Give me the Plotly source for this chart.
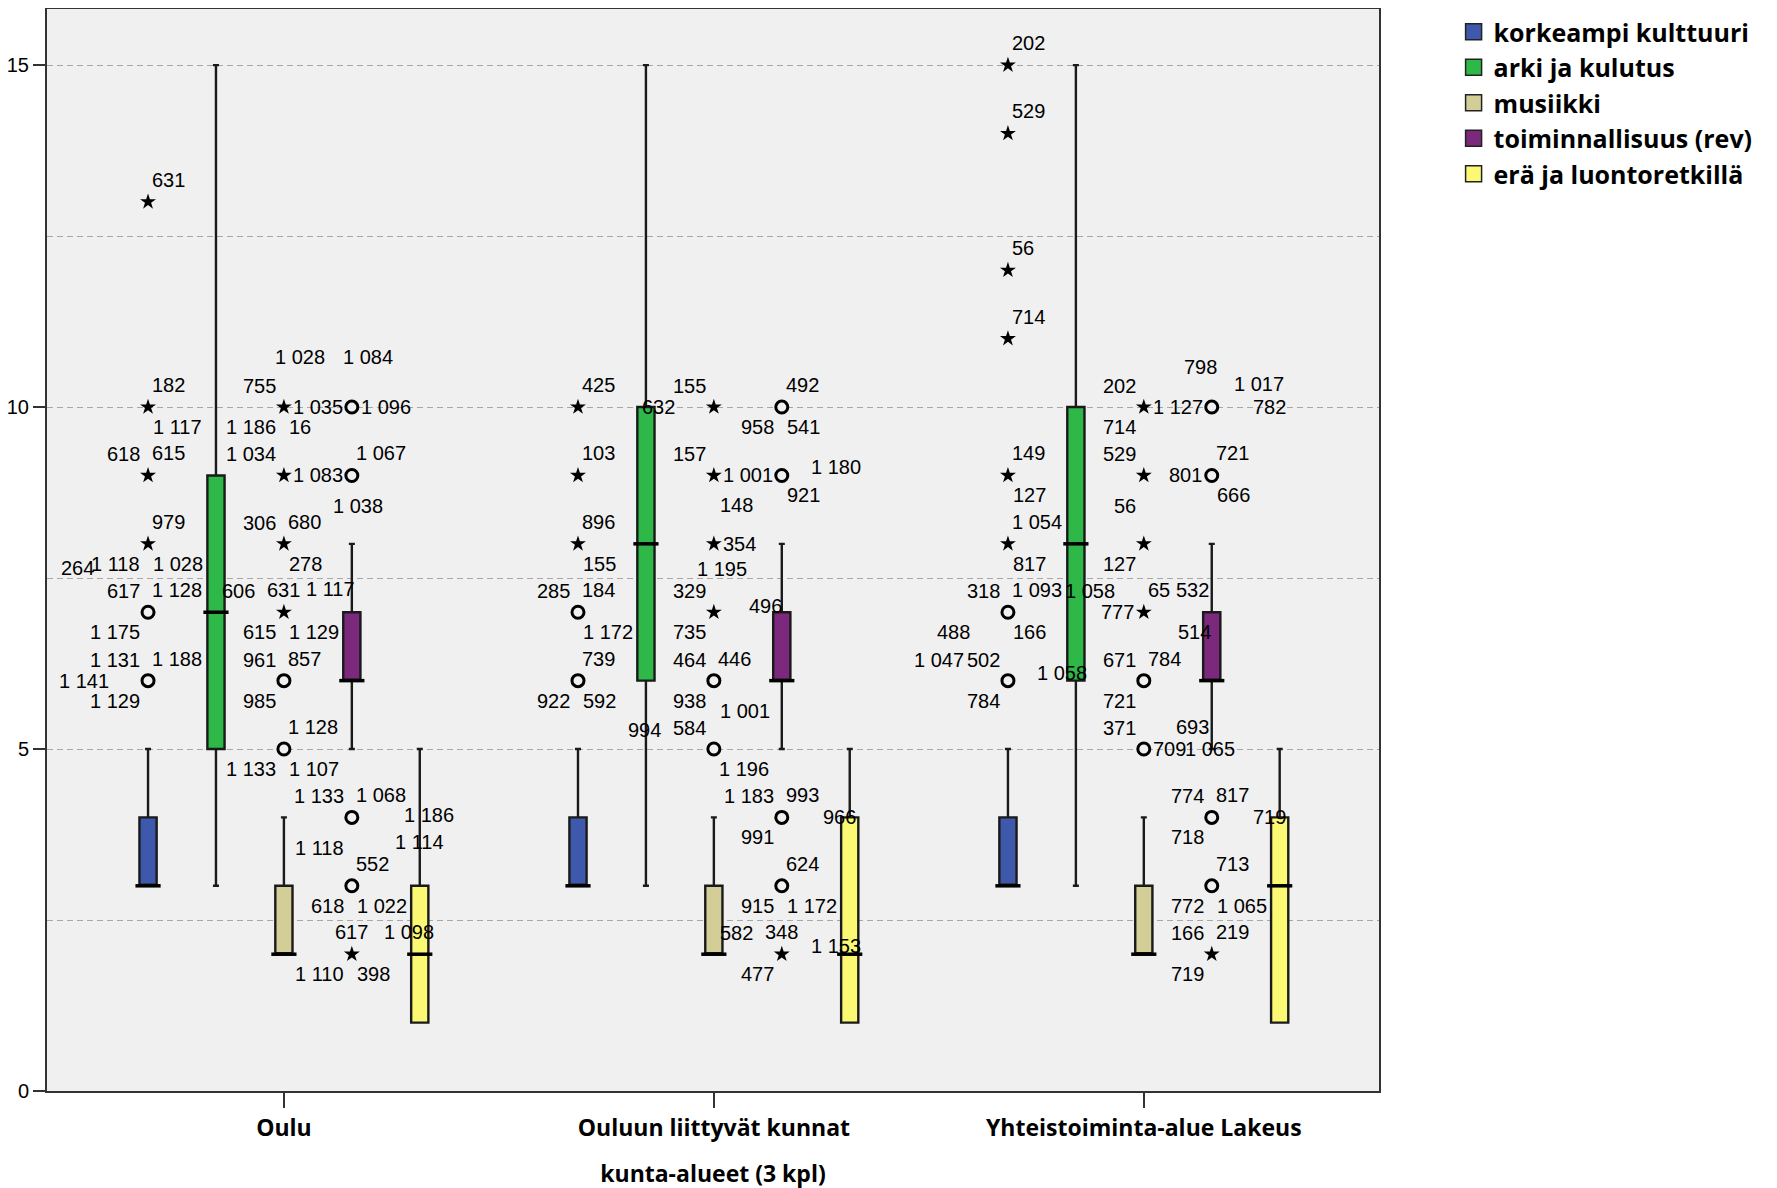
import plotly.graph_objects as go

# ---------------- data ----------------
GROUPS = ["Oulu", "Ouluun liittyvät kunnat", "Yhteistoiminta-alue Lakeus"]
SERIES = ["korkeampi kulttuuri", "arki ja kulutus", "musiikki",
          "toiminnallisuus (rev)", "erä ja luontoretkillä"]

# box statistics per series, one value per group
KK_STATS = dict(q1=[3, 3, 3], median=[3, 3, 3], q3=[4, 4, 4], lo=[3, 3, 3], hi=[5, 5, 5])
AK_STATS = dict(q1=[5, 6, 6], median=[7, 8, 8], q3=[9, 10, 10], lo=[3, 3, 3], hi=[15, 15, 15])
MU_STATS = dict(q1=[2, 2, 2], median=[2, 2, 2], q3=[3, 3, 3], lo=[2, 2, 2], hi=[4, 4, 4])
TO_STATS = dict(q1=[6, 6, 6], median=[6, 6, 6], q3=[7, 7, 7], lo=[5, 5, 5], hi=[8, 8, 8])
ER_STATS = dict(q1=[1, 1, 1], median=[2, 2, 3], q3=[3, 4, 4], lo=[1, 1, 1], hi=[5, 5, 5])

# outliers: (group index, value, kind 'o' = outlier / '*' = extreme, case labels with placement code)
KK_OUT = [
    (0, 13, "*", [("631", "ne")]),
    (0, 10, "*", [("182", "ne"), ("1 117", "se")]),
    (0, 9, "*", [("618", "nw"), ("615", "ne")]),
    (0, 8, "*", [("979", "ne"), ("1 028", "se"), ("1 118", "sw"), ("264", "sww")]),
    (0, 7, "o", [("617", "nw"), ("1 128", "ne"), ("1 175", "sw")]),
    (0, 6, "o", [("1 131", "nw"), ("1 188", "ne"), ("1 141", "ww"), ("1 129", "sw")]),
    (1, 10, "*", [("425", "ne")]),
    (1, 9, "*", [("103", "ne")]),
    (1, 8, "*", [("896", "ne"), ("155", "se")]),
    (1, 7, "o", [("285", "nw"), ("184", "ne"), ("1 172", "se")]),
    (1, 6, "o", [("739", "ne"), ("922", "sw"), ("592", "se")]),
    (2, 15, "*", [("202", "ne")]),
    (2, 14, "*", [("529", "ne")]),
    (2, 12, "*", [("56", "ne")]),
    (2, 11, "*", [("714", "ne")]),
    (2, 9, "*", [("149", "ne"), ("127", "se")]),
    (2, 8, "*", [("1 054", "ne"), ("817", "se")]),
    (2, 7, "o", [("318", "nw"), ("1 093", "ne"), ("166", "se"), ("488", "swF")]),
    (2, 6, "o", [("502", "nw"), ("1 047", "nwFF"), ("784", "sw"), ("1 058", "e3")]),
]
AK_OUT = []
MU_OUT = [
    (0, 10, "*", [("755", "nw"), ("1 028", "nne"), ("1 035", "e"), ("1 186", "sw"), ("16", "se")]),
    (0, 9, "*", [("1 034", "nw"), ("1 083", "e")]),
    (0, 8, "*", [("306", "nw"), ("680", "ne"), ("278", "se")]),
    (0, 7, "*", [("631", "n"), ("606", "nwF"), ("1 117", "neF"), ("615", "sw"), ("1 129", "se")]),
    (0, 6, "o", [("961", "nw"), ("857", "ne"), ("985", "sw")]),
    (0, 5, "o", [("1 128", "ne"), ("1 133", "sw"), ("1 107", "se")]),
    (1, 10, "*", [("155", "nw"), ("632", "ww")]),
    (1, 9, "*", [("157", "nw"), ("1 001", "e"), ("148", "se2")]),
    (1, 8, "*", [("354", "e"), ("1 195", "s")]),
    (1, 7, "*", [("329", "nw"), ("735", "sw"), ("496", "e2")]),
    (1, 6, "o", [("464", "nw"), ("446", "ne"), ("938", "sw"), ("1 001", "se2")]),
    (1, 5, "o", [("584", "nw"), ("994", "nww"), ("1 196", "se")]),
    (2, 10, "*", [("202", "nw"), ("1 127", "e"), ("714", "sw")]),
    (2, 9, "*", [("529", "nw"), ("56", "sw2")]),
    (2, 8, "*", [("127", "sw")]),
    (2, 7, "*", [("65", "ne"), ("532", "neF2"), ("777", "w"), ("1 058", "nwF"), ("514", "seF2")]),
    (2, 6, "o", [("671", "nw"), ("784", "ne"), ("721", "sw")]),
    (2, 5, "o", [("371", "nw"), ("693", "neF2"), ("709", "e"), ("1 065", "e4")]),
]
TO_OUT = [
    (0, 10, "o", [("1 084", "nne"), ("1 096", "e")]),
    (0, 9, "o", [("1 067", "ne"), ("1 038", "s2")]),
    (0, 4, "o", [("1 133", "nw"), ("1 068", "ne"), ("1 118", "sw2"), ("1 186", "eF"), ("1 114", "seF")]),
    (0, 3, "o", [("552", "ne"), ("618", "sw"), ("1 022", "se")]),
    (0, 2, "*", [("617", "n"), ("1 110", "sw"), ("398", "se"), ("1 098", "neF2")]),
    (1, 10, "o", [("492", "ne"), ("958", "sw"), ("541", "se")]),
    (1, 9, "o", [("1 180", "e3"), ("921", "se")]),
    (1, 4, "o", [("1 183", "nw"), ("993", "ne"), ("991", "sw"), ("966", "e4")]),
    (1, 3, "o", [("624", "ne"), ("915", "sw"), ("1 172", "se")]),
    (1, 2, "*", [("348", "n"), ("477", "sw"), ("582", "nwF"), ("1 153", "e3")]),
    (2, 10, "o", [("798", "nnw"), ("1 017", "neF"), ("782", "e4")]),
    (2, 9, "o", [("721", "ne"), ("801", "w"), ("666", "se")]),
    (2, 4, "o", [("774", "nw"), ("817", "ne"), ("718", "sw"), ("719", "e4")]),
    (2, 3, "o", [("713", "ne"), ("772", "sw"), ("1 065", "se")]),
    (2, 2, "*", [("219", "ne"), ("166", "nw"), ("719", "sw")]),
]
ER_OUT = []

Y_TICKS = [0, 5, 10, 15]

STATS = [KK_STATS, AK_STATS, MU_STATS, TO_STATS, ER_STATS]
OUTLIERS = [KK_OUT, AK_OUT, MU_OUT, TO_OUT, ER_OUT]

# ---------------- style ----------------
COLORS = ["#3E58AC", "#2EB848", "#D3CE97", "#7C287D", "#FBF873"]
PLOT_BG = "#F0F0F0"
SLOT = 0.158          # distance between boxes inside a group (x units)
BOX_W = 0.04          # box width (x units)
OFFSETS = [(j - (len(SERIES) - 1) / 2) * SLOT for j in range(len(SERIES))]

# label placement codes: (xanchor, xshift px, screen dy px)
PLACE = {
    "n": ("center", 0, -22), "ne": ("left", 3, -22), "nw": ("right", -7, -21),
    "se": ("left", 4, 20), "sw": ("right", -7, 20), "e": ("left", 8, 0),
    "w": ("right", -9, 0), "ww": ("right", -38, 0), "sww": ("right", -53, 24),
    "nwF": ("right", -28, -21), "nwFF": ("right", -43, -21), "neF": ("left", 21, -23),
    "neF2": ("left", 31, -22), "nne": ("left", -10, -50), "nnw": ("center", -11, -40),
    "eF": ("left", 51, -2), "e2": ("left", 34, -6), "e3": ("left", 28, -8),
    "e4": ("left", 40, 0), "seF": ("left", 42, 25), "seF2": ("left", 33, 20),
    "se2": ("left", 5, 30), "sw2": ("right", -7, 31), "swF": ("right", -37, 20),
    "s2": ("center", 6, 31), "nww": ("right", -52, -19), "s": ("center", 8, 25),
}

LABEL_FONT = dict(family="Liberation Sans, Arial, sans-serif", size=20, color="black")
BOLD_FONT = dict(family="Open Sans, sans-serif", size=23, color="black", weight="bold")
LEGEND_FONT = dict(family="Open Sans, sans-serif", size=25, color="black", weight="bold")

fig = go.Figure()
annotations = []

for j, name in enumerate(SERIES):
    st = STATS[j]
    xs = [g + OFFSETS[j] for g in range(len(GROUPS))]
    fig.add_trace(go.Box(
        x=xs, q1=st["q1"], median=st["median"], q3=st["q3"],
        lowerfence=st["lo"], upperfence=st["hi"],
        width=BOX_W, fillcolor=COLORS[j],
        line=dict(color="#1a1a1a", width=2.4), whiskerwidth=0.35,
        boxpoints=False, showlegend=False, hoverinfo="skip", name=name,
    ))
    # thick median line
    fig.add_trace(go.Scatter(
        x=xs, y=st["median"], mode="markers",
        marker=dict(symbol="line-ew", size=18, line=dict(color="black", width=3.5)),
        showlegend=False, hoverinfo="skip",
    ))
    out = OUTLIERS[j]
    circ = [o for o in out if o[2] == "o"]
    star = [o for o in out if o[2] == "*"]
    if circ:
        fig.add_trace(go.Scatter(
            x=[g + OFFSETS[j] for (g, v, k, labs) in circ],
            y=[v for (g, v, k, labs) in circ], mode="markers",
            marker=dict(symbol="circle", size=12, color=PLOT_BG,
                        line=dict(color="black", width=3)),
            showlegend=False, hoverinfo="skip",
        ))
    if star:
        fig.add_trace(go.Scatter(
            x=[g + OFFSETS[j] for (g, v, k, labs) in star],
            y=[v for (g, v, k, labs) in star], mode="markers",
            marker=dict(symbol="star", size=12, color="black",
                        line=dict(color="black", width=0)),
            showlegend=False, hoverinfo="skip",
        ))
    for (g, v, k, labs) in out:
        for text, code in labs:
            xa, dx, dy = PLACE[code]
            annotations.append(dict(
                x=g + OFFSETS[j], y=v, xref="x", yref="y", text=text,
                showarrow=False, xanchor=xa, yanchor="middle",
                xshift=dx, yshift=-dy, font=LABEL_FONT, borderpad=0,
            ))

# legend entries (square swatches)
for j, name in enumerate(SERIES):
    fig.add_trace(go.Scatter(
        x=[None], y=[None], mode="markers", name=name,
        marker=dict(symbol="square", size=22, color=COLORS[j],
                    line=dict(color="#222222", width=1.5)),
    ))

# the page body has an 8px margin, so margins are reduced on the left/top
fig.update_layout(
    width=1777, height=1188,
    margin=dict(l=39, r=406, t=1, b=105),
    paper_bgcolor="white", plot_bgcolor=PLOT_BG,
    boxmode="overlay",
    annotations=annotations,
    legend=dict(x=1.056, y=1.0, xanchor="left", yanchor="top",
                font=LEGEND_FONT, bgcolor="rgba(0,0,0,0)", tracegroupgap=0,
                itemsizing="trace"),
    xaxis=dict(
        range=[-0.551, 2.547], tickmode="array", tickvals=list(range(len(GROUPS))),
        ticktext=GROUPS, ticks="outside", ticklen=15, tickwidth=2, tickcolor="#333333",
        showgrid=False, zeroline=False, showline=True, linecolor="#333333", linewidth=2,
        mirror=True, tickfont=BOLD_FONT,
        title=dict(text="kunta-alueet (3 kpl)", font=BOLD_FONT, standoff=24),
        automargin=False,
    ),
    yaxis=dict(
        range=[0, 15.82], tickmode="array", tickvals=Y_TICKS,
        ticks="outside", ticklen=12, tickwidth=2, tickcolor="#333333",
        showgrid=True, gridcolor="#A8A8A8", griddash="6px,4px", gridwidth=1,
        minor=dict(dtick=2.5, showgrid=True, gridcolor="#A8A8A8", griddash="6px,4px",
                   ticks=""),
        zeroline=False, showline=True, linecolor="#333333", linewidth=2, mirror=True,
        tickfont=dict(family="Liberation Sans, Arial, sans-serif", size=20, color="black"),
        automargin=False,
    ),
)

fig.write_html("out.html")
